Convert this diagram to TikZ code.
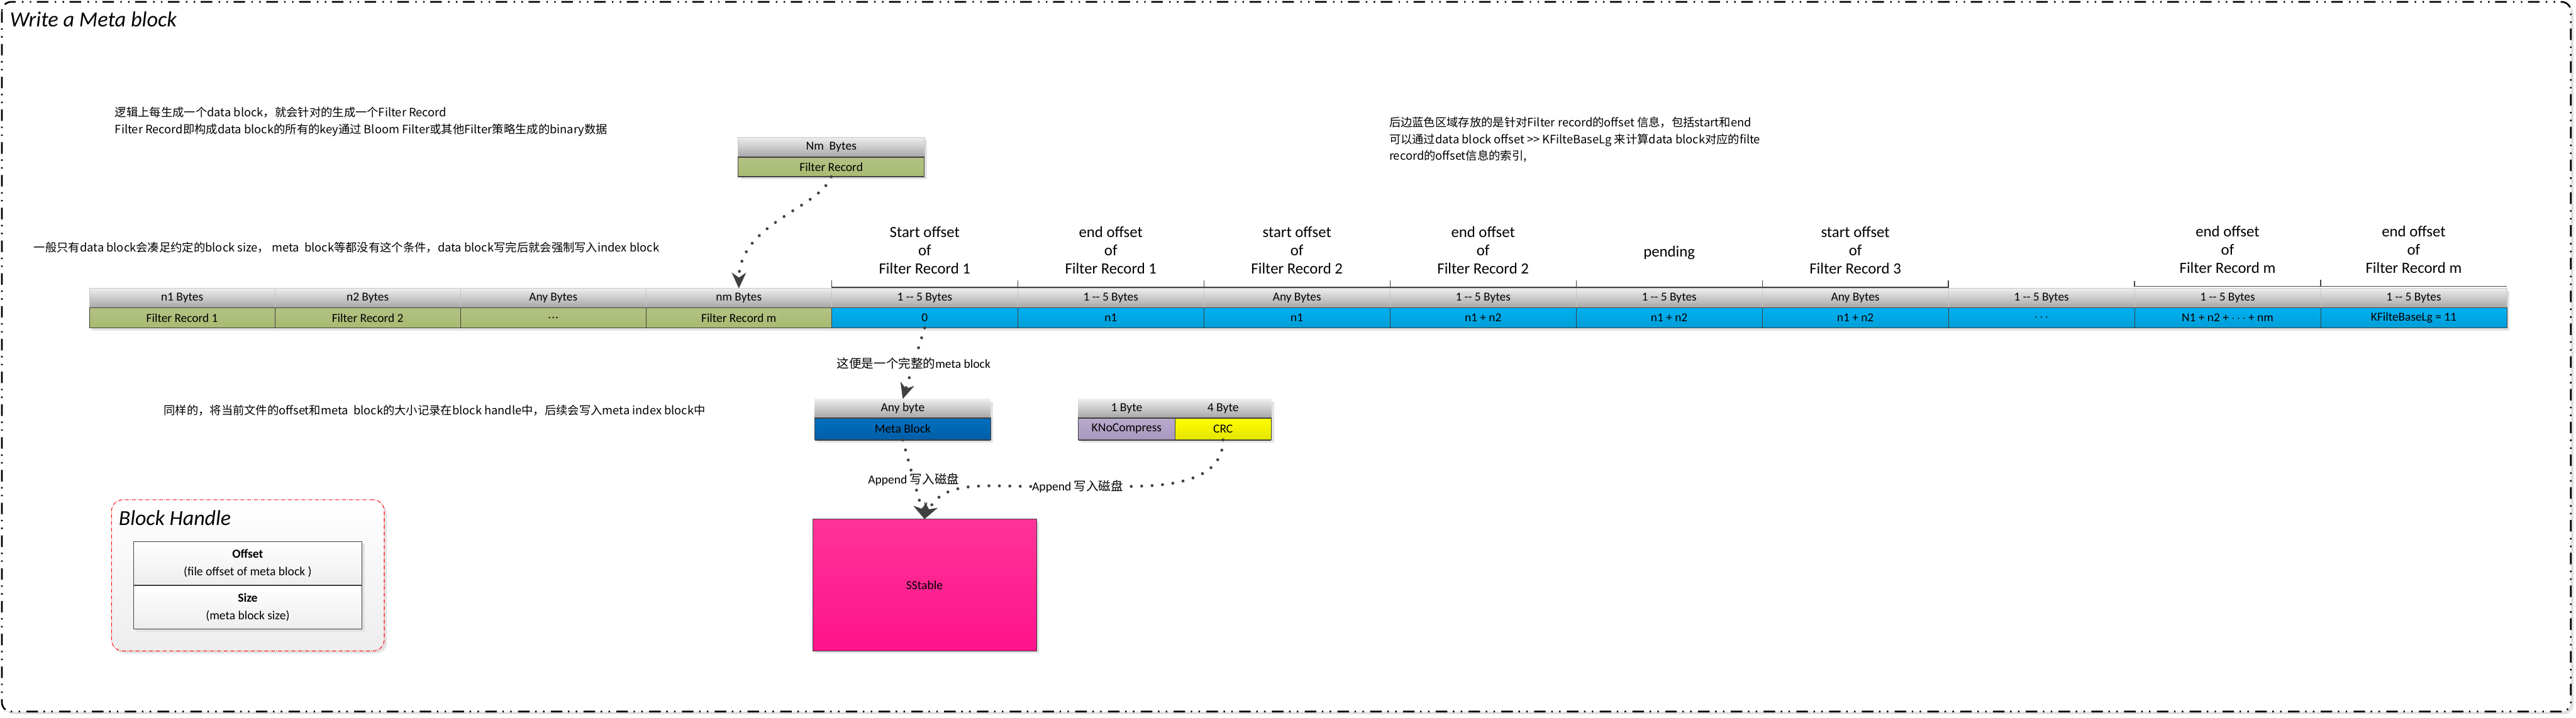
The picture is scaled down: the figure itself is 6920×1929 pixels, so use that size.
\documentclass[tikz,border=0pt]{standalone}
\usepackage{fontspec}
\setmainfont{Carlito}
\newfontfamily\cjk{Noto Sans CJK SC}
\usetikzlibrary{arrows.meta,shadows}
\definecolor{dk}{HTML}{404040}
\definecolor{hdtop}{HTML}{EDEDED}
\definecolor{hdbot}{HTML}{A6A6A6}
\definecolor{grtop}{HTML}{B3C284}
\definecolor{grbot}{HTML}{A8BA70}
\definecolor{butop}{HTML}{00B2F2}
\definecolor{bubot}{HTML}{009DD6}
\definecolor{mbtop}{HTML}{0070C0}
\definecolor{mbbot}{HTML}{005EA6}
\definecolor{kntop}{HTML}{B8AACC}
\definecolor{knbot}{HTML}{A797BF}
\definecolor{crtop}{HTML}{FFFF00}
\definecolor{crbot}{HTML}{E4E400}
\definecolor{sstop}{HTML}{FF3399}
\definecolor{ssbot}{HTML}{FF138A}
\newcommand\rowf{\fontsize{9.3pt}{11pt}\selectfont}
\newcommand\labf{\fontsize{11.9pt}{13.9pt}\selectfont}
\newcommand\boxf{\fontsize{9.4pt}{11pt}\selectfont}
\newcommand\annf{\cjk\fontsize{8.8pt}{12.8pt}\selectfont}
\newcommand\threedots{.\kern0.05em.\kern0.05em.}
\begin{document}
\begin{tikzpicture}[x=0.01cm,y=-0.01cm,
  every node/.style={inner sep=0pt,outer sep=0pt},
  shd/.style={general shadow={fill=black!11,shadow xshift=0.07cm,shadow yshift=-0.07cm}},
  hdr/.style={shd,font=\rowf,top color=hdtop,bottom color=hdbot,draw=black!22,line width=0.25pt,minimum height=0.52cm},
  grn/.style={shd,font=\rowf,top color=grtop,bottom color=grbot,draw=dk,line width=0.35pt,minimum height=0.54cm},
  blu/.style={shd,font=\rowf,top color=butop,bottom color=bubot,draw=dk,line width=0.35pt,minimum height=0.54cm},
  sepline/.style={draw=dk,line width=0.03cm},
  brk/.style={draw=dk,line width=0.6pt},
  dotc/.style={draw=dk,line width=0.08cm,line cap=round,dash pattern=on 0pt off 0.28cm},
  tip/.style={-{Stealth[length=0.42cm,width=0.38cm,inset=0.13cm]}},
  toplab/.style={font=\labf,align=center},
  ann/.style={font=\annf,align=left,anchor=west},
  lbl/.style={fill=white,inner sep=0.04cm,font=\boxf},
]
\useasboundingbox (0,0) rectangle (6920,1929);
\fill[white] (0,0) rectangle (6920,1929);
% outer frame
\fill[black!12,rounded corners=0.25cm] (12,12) rectangle (6913,1919);
\draw[fill=white,line width=0.045cm,rounded corners=0.25cm,dash pattern=on 0.31cm off 0.15cm on 0.04cm off 0.17cm on 0.04cm off 0.17cm] (5,5) rectangle (6906,1912);
\node[anchor=base west,font=\fontsize{16.5pt}{19pt}\selectfont\itshape] (title) at (27,72) {Write a Meta block};

% annotations
\node[ann] (a1) at (309,327) {逻辑上每生成一个data block，就会针对的生成一个Filter Record\\Filter Record即构成data block的所有的key通过 Bloom Filter或其他Filter策略生成的binary数据};
\node[ann] (a2) at (3732,375) {后边蓝色区域存放的是针对Filter record的offset 信息，包括start和end\\可以通过data block offset >{}> KFilteBaseLg 来计算data block对应的filte\\record的offset信息的索引,};
\node[ann] (a3) at (91,665) {一般只有data block会凑足约定的block size，~meta~ block等都没有这个条件，data block写完后就会强制写入index block};
\node[ann] (a4) at (440,1102) {同样的，将当前文件的offset和meta~ block的大小记录在block handle中，后续会写入meta index block中};

% single filter record box
\node[hdr,minimum width=5cm,minimum height=0.53cm,font=\boxf] (nmh) at (2233,395.5) {Nm~ Bytes};
\node[grn,minimum width=5cm,minimum height=0.53cm,font=\boxf] (fr) at (2233,448.5) {Filter Record};
\draw[sepline] (fr.north west) -- (fr.north east);
\draw[sepline] (fr.south west) -- (fr.south east);

% green part of the row
\foreach \i/\h/\b in {0/n1 Bytes/Filter Record 1,1/n2 Bytes/Filter Record 2,2/Any Bytes/\threedots,3/nm Bytes/Filter Record m}{
  \node[hdr,minimum width=4.985cm] (gh\i) at ({489.25+498.5*\i},801) {\h};
  \node[grn,minimum width=4.985cm] (gb\i) at ({489.25+498.5*\i},854) {\b};
}
% blue part of the row
\foreach \i/\h/\b in {0/1 -{}- 5 Bytes/0,1/1 -{}- 5 Bytes/n1,2/Any Bytes/n1,3/1 -{}- 5 Bytes/n1 + n2,4/1 -{}- 5 Bytes/n1 + n2,5/Any Bytes/n1 + n2,6/1 -{}- 5 Bytes/$\cdots$,7/1 -{}- 5 Bytes/N1 + n2 + $\cdots$ + nm,8/1 -{}- 5 Bytes/KFilteBaseLg = 11}{
  \node[hdr,minimum width=5cm] (bh\i) at ({2484+500*\i},801) {\h};
  \node[blu,minimum width=5cm] (bb\i) at ({2484+500*\i},854) {\b};
}
\draw[sepline] (gb0.north west) -- (bb8.north east);
\draw[sepline] (gb0.south west) -- (bb8.south east);

% labels above the blue cells
\node[toplab] (l0) at (2484,673) {Start offset\\of\\Filter Record 1};
\node[toplab] (l1) at (2984,673) {end offset\\of\\Filter Record 1};
\node[toplab] (l2) at (3484,673) {start offset\\of\\Filter Record 2};
\node[toplab] (l3) at (3984,673) {end offset\\of\\Filter Record 2};
\node[toplab] (l4) at (4484,680) {pending};
\node[toplab] (l5) at (4984,673) {start offset\\of\\Filter Record 3};
\node[toplab] (l7) at (5984,670) {end offset\\of\\Filter Record m};
\node[toplab] (l8) at (6484,670) {end offset\\of\\Filter Record m};
\draw[brk] (2234,754) -- (2234,772) -- (5234,772) -- (5234,754);
\foreach \x in {2734,3234,3734,4234,4734}{\draw[brk] (\x,754) -- (\x,772);}
\draw[brk] (5734,755) -- (5734,769) -- (6734,769);
\draw[brk] (6234,751) -- (6234,769);

% meta block
\node[hdr,draw=none,minimum width=4.72cm,minimum height=0.51cm,font=\boxf] (mh) at (2425,1097.5) {Any byte};
\node[grn,top color=mbtop,bottom color=mbbot,minimum width=4.72cm,minimum height=0.59cm,font=\boxf] (mb) at (2425,1152.5) {Meta Block};
\draw[sepline] (mb.north west) -- (mb.north east);
\draw[sepline] (mb.south west) -- (mb.south east);

% type + crc
\node[hdr,draw=none,minimum width=2.59cm,minimum height=0.51cm,font=\boxf] (kh) at (3026.5,1097.5) {1 Byte};
\node[hdr,draw=none,minimum width=2.59cm,minimum height=0.51cm,font=\boxf] (ch) at (3285.5,1097.5) {4 Byte};
\node[grn,top color=kntop,bottom color=knbot,minimum width=2.59cm,minimum height=0.59cm,font=\boxf] (kn) at (3026.5,1152.5) {KNoCompress};
\node[grn,top color=crtop,bottom color=crbot,minimum width=2.59cm,minimum height=0.59cm,font=\boxf] (crc) at (3285.5,1152.5) {CRC};
\draw[sepline] (kn.north west) -- (crc.north east);
\draw[sepline] (kn.south west) -- (crc.south east);

% sstable
\node[shd,draw=dk,line width=0.4pt,top color=sstop,bottom color=ssbot,minimum width=6.01cm,minimum height=3.54cm,font=\boxf] (sst) at (2483.5,1572) {SStable};

% block handle
\node[shd,draw=red,line width=0.5pt,dash pattern=on 0.1cm off 0.035cm on 0.012cm off 0.035cm,rounded corners=0.3cm,top color=white,bottom color=black!7,minimum width=7.32cm,minimum height=4.06cm] (bh) at (666,1546) {};
\node[anchor=base west,font=\fontsize{16.3pt}{19pt}\selectfont\itshape] (bht) at (319,1412) {Block Handle};
\node[shd,draw=dk,line width=0.4pt,top color=white,bottom color=black!7,minimum width=6.13cm,minimum height=1.18cm,font=\boxf,align=center] (off) at (665.5,1514) {\textbf{Offset}\\[0.08cm](file offset of meta block )};
\node[shd,draw=dk,line width=0.4pt,top color=white,bottom color=black!7,minimum width=6.13cm,minimum height=1.17cm,font=\boxf,align=center] (siz) at (665.5,1631.5) {\textbf{Size}\\[0.08cm](meta block size)};
\draw[sepline] (siz.north west) -- (siz.north east);

% connectors
\draw[dotc,tip] (fr.south) .. controls (2200,560) and (1986,600) .. (gh3.north);
\draw[dotc,tip] (bb0.south) -- node[lbl] (c1) {{\cjk 这便是一个完整的}meta block} (mh.north);
\draw[dotc,tip] (mb.south) -- node[lbl] (c2) {Append {\cjk 写入磁盘}} (sst.north);
\node[lbl] (c3) at (2895,1307) {Append {\cjk 写入磁盘}};
\draw[dotc] (crc.south) to[out=-90,in=0] (c3.east);
\draw[dotc,tip] (c3.west) to[out=180,in=65] (sst.north);
\end{tikzpicture}
\end{document}
